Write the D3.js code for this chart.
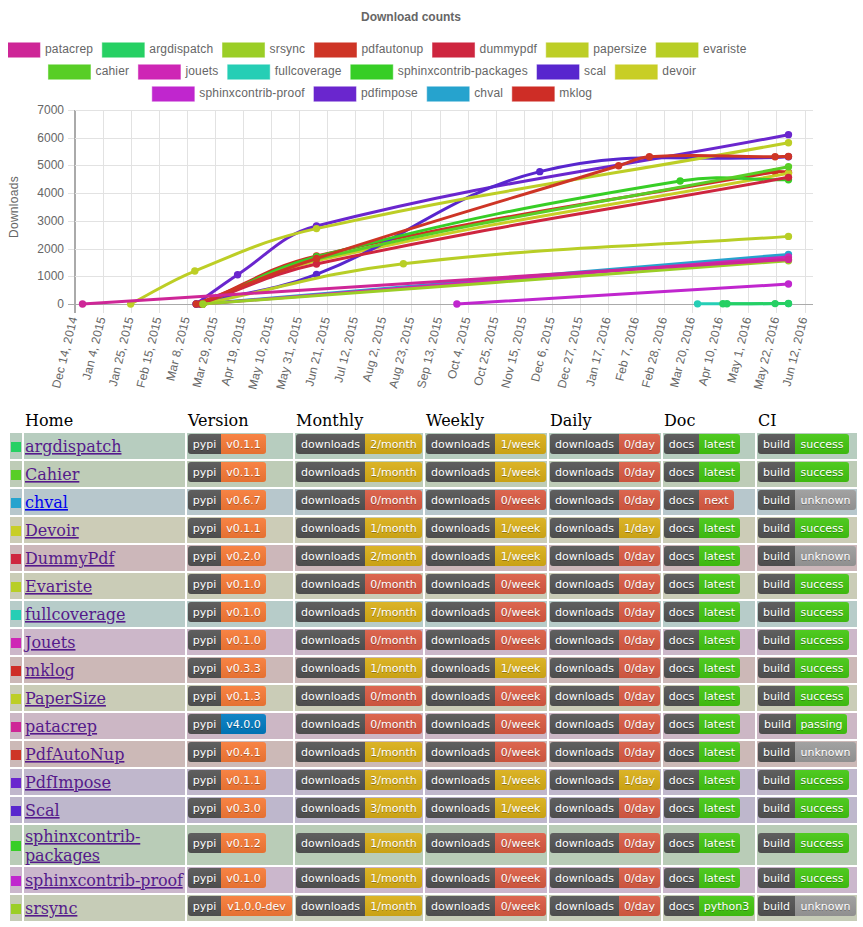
<!DOCTYPE html>
<html>
<head>
<meta charset="utf-8">
<script src="https://cdnjs.cloudflare.com/ajax/libs/d3/7.8.5/d3.min.js"></script>
<style>
body { margin: 0; background: #fff; }
svg { display: block; }
.chart text { font-family: "Liberation Sans", sans-serif; font-size: 12px; fill: #666; }
.tabla text { font-family: "DejaVu Serif", serif; font-size: 16px; }
.badge text { font-family: "DejaVu Sans", sans-serif; font-size: 11px; text-anchor: middle; }
</style>
</head>
<body>
<svg id="grafica" width="863" height="927"></svg>
<script>
// paquetes en el orden de la leyenda
var legendRows = [
	["patacrep", "argdispatch", "srsync", "pdfautonup", "dummypdf", "papersize", "evariste"],
	["cahier", "jouets", "fullcoverage", "sphinxcontrib-packages", "scal", "devoir"],
	["sphinxcontrib-proof", "pdfimpose", "chval", "mklog"]
];
var seriesNames = ["patacrep", "argdispatch", "srsync", "pdfautonup", "dummypdf", "papersize", "evariste", "cahier", "jouets", "fullcoverage", "sphinxcontrib-packages", "scal", "devoir", "sphinxcontrib-proof", "pdfimpose", "chval", "mklog"];
var seriesColors = ["#ce2697", "#26d063", "#9bce26", "#ce3526", "#ce263f", "#bdce26", "#b8ce26", "#58ce26", "#ce26b5", "#26ceb5", "#37ce26", "#5826ce", "#c8ce26", "#c026ce", "#6a26ce", "#26a3ce", "#ce2d26"];

// descargas: [fecha, descargas]
var patacrep = [["2014-12-20", 0], ["2016-05-31", 1610]];
var argdispatch = [["2016-04-12", 10], ["2016-04-15", 10], ["2016-05-21", 15], ["2016-05-31", 20]];
var srsync = [["2015-03-20", 0], ["2016-05-31", 1560]];
var pdfautonup = [["2015-03-15", 0], ["2015-06-13", 1640], ["2016-01-25", 4990], ["2016-02-17", 5315], ["2016-05-21", 5315], ["2016-05-31", 5320]];
var dummypdf = [["2015-03-18", 0], ["2015-06-13", 1443], ["2016-05-31", 4570]];
var papersize = [["2015-01-25", 0], ["2015-03-14", 1190], ["2015-06-13", 2720], ["2016-05-31", 5820]];
var evariste = [["2015-03-20", 0], ["2015-08-17", 1455], ["2016-05-31", 2440]];
var cahier = [["2015-03-20", 0], ["2015-06-13", 1620], ["2016-05-31", 4955]];
var jouets = [["2015-03-20", 0], ["2016-05-31", 1700]];
var fullcoverage = [["2016-03-24", 5], ["2016-05-31", 15]];
var sphinxPackages = [["2015-03-20", 0], ["2015-06-13", 1707], ["2016-03-11", 4440], ["2016-05-31", 4480]];
var scal = [["2015-03-15", 0], ["2015-06-13", 1070], ["2015-11-27", 4775], ["2016-05-31", 5315]];
var devoir = [["2015-03-20", 0], ["2015-06-13", 1560], ["2016-05-31", 4720]];
var sphinxProof = [["2015-09-26", 0], ["2016-05-31", 720]];
var pdfimpose = [["2015-03-15", 0], ["2015-04-15", 1057], ["2015-06-13", 2815], ["2016-05-31", 6110]];
var chval = [["2015-03-18", 0], ["2016-05-31", 1790]];
var mklog = [["2015-03-18", 0], ["2015-06-13", 1730], ["2016-05-21", 4775], ["2016-05-31", 4750]];
var seriesData = [patacrep, argdispatch, srsync, pdfautonup, dummypdf, papersize, evariste, cahier, jouets, fullcoverage, sphinxPackages, scal, devoir, sphinxProof, pdfimpose, chval, mklog];

var yTicks = [0, 1000, 2000, 3000, 4000, 5000, 6000, 7000];

// tabla de abajo
var headers = ["Home", "Version", "Monthly", "Weekly", "Daily", "Doc", "CI"];
var rowNames = ["argdispatch", "Cahier", "chval", "Devoir", "DummyPdf", "Evariste", "fullcoverage", "Jouets", "mklog", "PaperSize", "patacrep", "PdfAutoNup", "PdfImpose", "Scal", "sphinxcontrib-packages", "sphinxcontrib-proof", "srsync"];
var versions = ["v0.1.1", "v0.1.1", "v0.6.7", "v0.1.1", "v0.2.0", "v0.1.0", "v0.1.0", "v0.1.0", "v0.3.3", "v0.1.3", "v4.0.0", "v0.4.1", "v0.1.1", "v0.3.0", "v0.1.2", "v0.1.0", "v1.0.0-dev"];
var monthly = [2, 1, 0, 1, 2, 0, 7, 0, 1, 0, 0, 1, 3, 3, 1, 1, 1];
var weekly = [1, 1, 0, 1, 1, 0, 0, 0, 1, 0, 0, 0, 1, 1, 0, 0, 0];
var daily = [0, 0, 0, 1, 0, 0, 0, 0, 0, 0, 0, 0, 1, 0, 0, 0, 0];
var docs = ["latest", "latest", "next", "latest", "latest", "latest", "latest", "latest", "latest", "latest", "latest", "latest", "latest", "latest", "latest", "latest", "python3"];
var builds = ["success", "success", "unknown", "success", "unknown", "success", "success", "success", "success", "success", "passing", "unknown", "success", "success", "success", "success", "unknown"];

var svg = d3.select("#grafica");
var fecha = d3.timeParse("%Y-%m-%d");
var colorOf = d3.scaleOrdinal().domain(seriesNames).range(seriesColors);

// la misma spline que usa chart.js (tension 0.4)
function splineChart(pts) {
	var t = 0.4, p = d3.path();
	function ctrl(i) {
		var a = pts[Math.max(i - 1, 0)], b = pts[i], c = pts[Math.min(i + 1, pts.length - 1)];
		var d01 = Math.hypot(b[0] - a[0], b[1] - a[1]), d12 = Math.hypot(c[0] - b[0], c[1] - b[1]);
		var s = d01 + d12 || 1;
		var fa = t * d01 / s, fb = t * d12 / s;
		return {
			prev: [b[0] - fa * (c[0] - a[0]), b[1] - fa * (c[1] - a[1])],
			next: [b[0] + fb * (c[0] - a[0]), b[1] + fb * (c[1] - a[1])]
		};
	}
	p.moveTo(pts[0][0], pts[0][1]);
	for (var i = 1; i < pts.length; i++) {
		var c1 = ctrl(i - 1).next, c2 = ctrl(i).prev;
		p.bezierCurveTo(c1[0], c1[1], c2[0], c2[1], pts[i][0], pts[i][1]);
	}
	return p.toString();
}

function generarGrafica() {
	var g = svg.append("g").attr("class", "chart");
	var x = d3.scaleTime().domain([fecha("2014-12-14"), fecha("2016-06-12")]).range([74.5, 804.5]);
	var xEnd = 813;
	var y = d3.scaleLinear().domain([0, 7000]).range([304, 110]);

	g.append("text").attr("x", 411).attr("y", 21).attr("text-anchor", "middle")
		.style("font-weight", "bold").text("Download counts");

	// leyenda: cada fila centrada midiendo el texto
	var clip = svg.append("clipPath").attr("id", "clipLeyenda");
	clip.append("rect").attr("x", 8).attr("y", 0).attr("width", 855).attr("height", 110);
	var leyenda = g.append("g").attr("clip-path", "url(#clipLeyenda)");
	legendRows.forEach(function(row, r) {
		var fila = leyenda.append("g");
		var cx = 0;
		row.forEach(function(name) {
			var item = fila.append("g").attr("transform", "translate(" + cx + ",0)");
			item.append("rect").attr("x", 0.5).attr("y", 42.8 + r * 22).attr("width", 42).attr("height", 14.4)
				.attr("fill", colorOf(name)).attr("stroke", colorOf(name)).attr("stroke-opacity", 0.55)
				.style("stroke-width", 1);
			var t = item.append("text").attr("x", 47.5).attr("y", 53 + r * 22).style("letter-spacing", "0.18px").text(name);
			cx += 47.5 + t.node().getComputedTextLength() + 8.7;
		});
		fila.attr("transform", "translate(" + (372 - (cx - 8.7) / 2) + ",0)");
	});

	// rejilla y ejes
	var ticksX = d3.timeDay.range(fecha("2014-12-14"), fecha("2016-06-13"), 21);
	var grid = g.append("g");
	grid.selectAll(".gx").data(ticksX).enter().append("line")
		.attr("x1", d => Math.round(x(d)) + 0.5).attr("x2", d => Math.round(x(d)) + 0.5)
		.attr("y1", 110).attr("y2", 313)
		.attr("stroke", (d, i) => i == 0 ? "#aaa" : "#e2e2e2");
	grid.selectAll(".gy").data(yTicks).enter().append("line")
		.attr("x1", 68).attr("x2", xEnd)
		.attr("y1", d => Math.round(y(d)) + 0.5).attr("y2", d => Math.round(y(d)) + 0.5)
		.attr("stroke", d => d == 0 ? "#aaa" : "#e2e2e2");
	g.append("line").attr("x1", 74.5).attr("x2", 74.5).attr("y1", 110).attr("y2", 313).attr("stroke", "#aaa");

	g.selectAll(".ly").data(yTicks).enter().append("text")
		.attr("x", 64).attr("y", d => y(d) + 4).attr("text-anchor", "end").text(d => d);
	var fmt = d3.timeFormat("%b %-d, %Y");
	g.selectAll(".lx").data(ticksX).enter().append("text")
		.attr("text-anchor", "end")
		.attr("transform", d => "translate(" + (x(d) + 3) + ",318) rotate(-76)")
		.style("letter-spacing", "0.15px")
		.text(d => fmt(d));
	g.append("text").attr("transform", "translate(18,207) rotate(-90)").attr("text-anchor", "middle")
		.style("letter-spacing", "0.3px").text("Downloads");

	// las lineas: la primera serie queda encima, como en chart.js
	var orden = d3.range(seriesNames.length).reverse();
	orden.forEach(function(i) {
		var c = seriesColors[i];
		var s = g.append("g");
		var pts = seriesData[i].map(d => [x(fecha(d[0])), y(d[1])]);
		s.append("path").attr("d", splineChart(pts)).attr("fill", "none").attr("stroke", c).attr("stroke-width", 3);
		s.selectAll("circle").data(seriesData[i]).enter().append("circle")
			.attr("cx", d => x(fecha(d[0]))).attr("cy", d => y(d[1])).attr("r", 3.7).attr("fill", c);
	});
}

var badgeColors = { orange: "#fe7d37", yellow: "#dfb317", red: "#e05d44", green: "#44cc11", grey: "#9f9f9f", blue: "#007ec6" };

function badge(parent, bx, by, izq, der, wIzq, wDer, color) {
	var b = parent.append("g").attr("class", "badge").attr("transform", "translate(" + bx + "," + by + ")");
	var id = "c" + bx + "_" + by;
	b.append("clipPath").attr("id", id).append("rect").attr("width", wIzq + wDer).attr("height", 20).attr("rx", 3);
	var r = b.append("g").attr("clip-path", "url(#" + id + ")");
	r.append("rect").attr("width", wIzq).attr("height", 20).attr("fill", "#555");
	r.append("rect").attr("x", wIzq).attr("width", wDer).attr("height", 20).attr("fill", color);
	r.append("rect").attr("width", wIzq + wDer).attr("height", 20).attr("fill", "url(#brillo)");
	[[wIzq / 2, izq], [wIzq + wDer / 2, der]].forEach(function(t) {
		b.append("text").attr("x", t[0]).attr("y", 15).attr("fill", "#010101").attr("fill-opacity", 0.3).text(t[1]);
		b.append("text").attr("x", t[0]).attr("y", 14).attr("fill", "#fff").text(t[1]);
	});
}

function generarTabla() {
	var defs = svg.append("defs");
	var grad = defs.append("linearGradient").attr("id", "brillo").attr("x2", 0).attr("y2", "100%");
	grad.append("stop").attr("offset", 0).attr("stop-color", "#bbb").attr("stop-opacity", 0.1);
	grad.append("stop").attr("offset", 1).attr("stop-opacity", 0.1);

	var t = svg.append("g").attr("class", "tabla");
	var colLeft = [10, 24, 187, 295, 425, 549, 663, 757];
	var colRight = [22, 185, 293, 423, 547, 661, 755, 857];

	headers.forEach(function(h, i) {
		t.append("text").attr("x", colLeft[i + 1] + 1).attr("y", 426).attr("fill", "#000").text(h);
	});

	var top = 433;
	rowNames.forEach(function(name, i) {
		var partido = name == "sphinxcontrib-packages";
		var alto = partido ? 40 : 26;
		var base = d3.interpolateRgb("#cccccc", colorOf(name.toLowerCase()))(0.125);
		colLeft.forEach(function(cl, c) {
			t.append("rect").attr("x", cl).attr("y", top).attr("width", colRight[c] - cl).attr("height", alto).attr("fill", base);
		});
		t.append("rect").attr("x", 11).attr("y", top + alto / 2 - 4).attr("width", 10).attr("height", 10).attr("fill", colorOf(name.toLowerCase()));

		var enlace = name == "chval" ? "#0000ee" : "#551a8b";
		var apretado = name.indexOf("sphinx") == 0 ? "-0.12px" : "0";
		if (partido) {
			["sphinxcontrib-", "packages"].forEach(function(parte, k) {
				t.append("text").attr("x", 25).attr("y", top + 17 + k * 18.5).attr("fill", enlace)
					.style("letter-spacing", apretado).style("text-decoration", "underline").text(parte);
			});
		} else {
			t.append("text").attr("x", 25).attr("y", top + 19).attr("fill", enlace)
				.style("letter-spacing", apretado).style("text-decoration", "underline").text(name);
		}

		var by = top + (alto - 26) / 2 + 1;
		var vColor = name == "patacrep" ? badgeColors.blue : badgeColors.orange;
		var vAncho = versions[i] == "v1.0.0-dev" ? 71 : 45;
		badge(t, 188, by, "pypi", versions[i], 33, vAncho, vColor);
		badge(t, 296, by, "downloads", monthly[i] + "/month", 69, 57, monthly[i] ? badgeColors.yellow : badgeColors.red);
		badge(t, 426, by, "downloads", weekly[i] + "/week", 69, 51, weekly[i] ? badgeColors.yellow : badgeColors.red);
		badge(t, 550, by, "downloads", daily[i] + "/day", 69, 41, daily[i] ? badgeColors.yellow : badgeColors.red);
		var dAncho = docs[i] == "next" ? 35 : (docs[i] == "python3" ? 55 : 41);
		badge(t, 664, by, "docs", docs[i], 35, dAncho, docs[i] == "next" ? badgeColors.red : badgeColors.green);
		var bAncho = builds[i] == "unknown" ? 61 : (builds[i] == "passing" ? 51 : 54);
		badge(t, builds[i] == "passing" ? 759 : 758, by, "build", builds[i], 37, bAncho, builds[i] == "unknown" ? badgeColors.grey : badgeColors.green);

		top += alto + 2;
	});
}

generarTabla();
generarGrafica();
</script>
</body>
</html>
